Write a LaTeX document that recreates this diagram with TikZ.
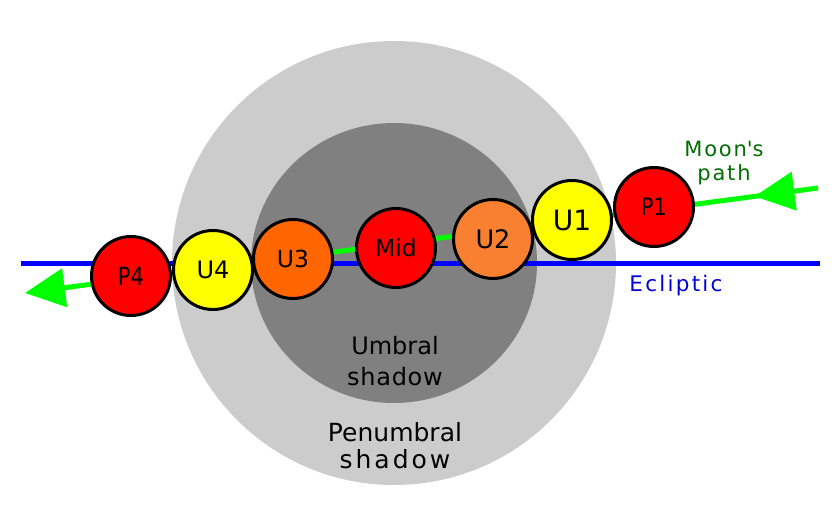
\documentclass[tikz,border=0pt]{standalone}
\usepackage{fontspec}
\setmainfont{DejaVu Sans}
\usetikzlibrary{positioning, arrows.meta, decorations.markings}
\definecolor{penumbra}{RGB}{204,204,204}
\definecolor{umbra}{RGB}{128,128,128}
\definecolor{eclblue}{RGB}{0,0,255}
\definecolor{eclText}{RGB}{0,0,220}
\definecolor{pathgreen}{RGB}{0,255,0}
\definecolor{pathText}{RGB}{0,110,0}
\definecolor{moonRed}{RGB}{255,0,0}
\definecolor{moonYellow}{RGB}{255,255,0}
\definecolor{moonDark}{RGB}{255,102,0}
\definecolor{moonLight}{RGB}{248,128,48}
% spaced-out text
\newcommand{\spaced}[2]{{\addfontfeature{LetterSpace=#1}#2}}

\begin{document}
\begin{tikzpicture}[
        x=1pt, y=-1pt,
        moon/.style={draw, circle, line width=3pt, minimum size=79pt, inner sep=0pt},
        lbl/.style={font=\fontsize{#1}{#1}\selectfont},
        pathtip/.tip={Triangle[length=40pt, width=38pt]},
    ]
        \useasboundingbox[fill=white] (0,0) rectangle (840,510);
        % Shadows
        \fill[penumbra] (394,263) circle (222pt);
        \fill[umbra] (394,263) ellipse (143pt and 140pt);
        \node[align=center, font=\fontsize{24}{31}\selectfont] (umtext) at (395,361)
            {Umbral\\\spaced{3}{shadow}};
        \node[align=center, font=\fontsize{25}{27}\selectfont] (pentext) at (395,446)
            {Penumbral\\\spaced{12}{shadow}};
        % Ecliptic
        \coordinate (eclW) at (21,264);
        \coordinate (eclE) at (820,264);
        \draw[eclblue, line width=5pt] (eclW) -- (eclE);
        \node[lbl=21.5, text=eclText, anchor=base] (ecltext) at (676,292) {\spaced{10.5}{Ecliptic}};
        % Moon's path
        \coordinate (pathE) at (818,188);
        \coordinate (pathW) at (25,293);
        \draw[pathgreen, line width=5pt, -pathtip,
            postaction={decorate},
            decoration={markings, mark=at position 64pt with {\arrow{pathtip}}}]
            (pathE) -- (pathW);
        \node[align=center, text=pathText, font=\fontsize{21}{23.3}\selectfont] (pathtext) at (724,163)
            {\spaced{8.5}{Moon\textquotesingle s}\\\spaced{8.5}{path}};
        % Moon positions
        \node[moon, fill=moonRed, lbl=25] (p4) at (131,276) {\scalebox{0.84}[1]{P4}};
        \node[moon, fill=moonYellow, lbl=24] (u4) at (213,270) {U4};
        \node[moon, fill=moonDark, lbl=23.5] (u3) at (293,259) {U3};
        \node[moon, fill=moonRed, lbl=23.5] (mid) at (396,248) {Mid};
        \node[moon, fill=moonLight, lbl=25.5] (u2) at (493,239) {U2};
        \node[moon, fill=moonYellow, lbl=28] (u1) at (572,220) {U1};
        \node[moon, fill=moonRed, lbl=24] (p1) at (654,207) {\scalebox{0.86}[1]{P1}};
    \end{tikzpicture}
\end{document}
